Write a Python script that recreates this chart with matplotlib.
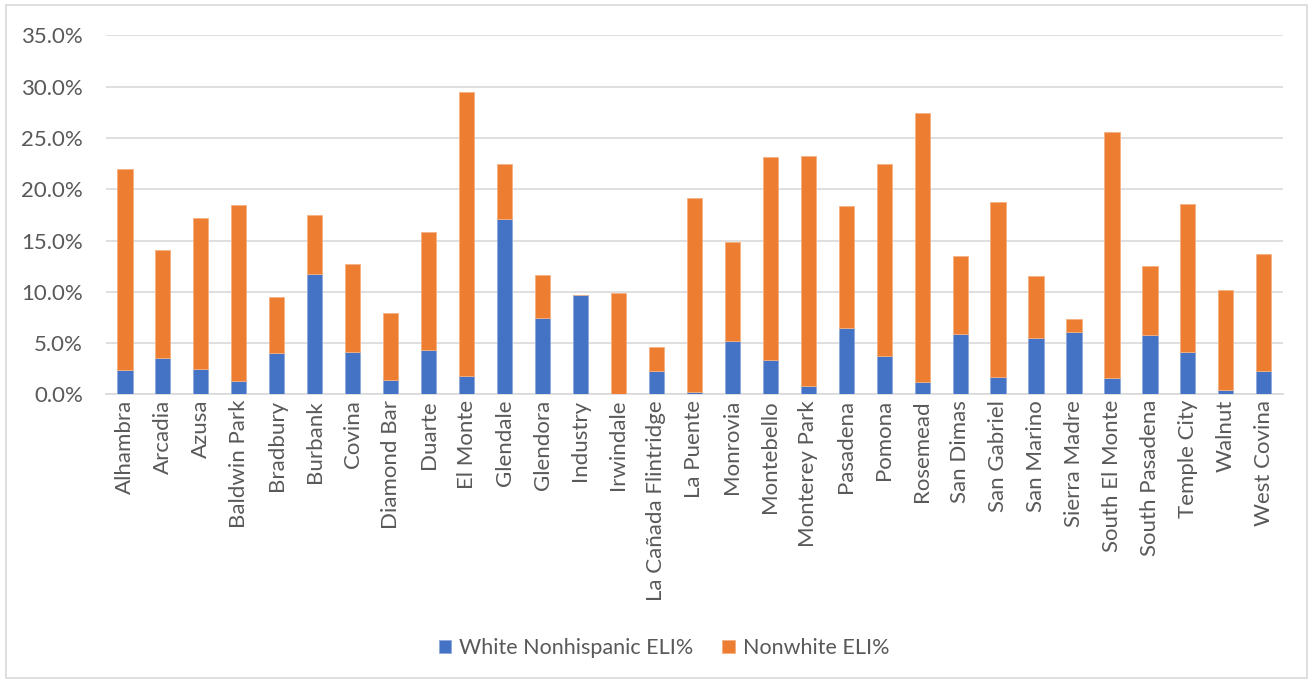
import matplotlib
matplotlib.use("Agg")
import matplotlib.pyplot as plt
from matplotlib.patches import Rectangle
from matplotlib.ticker import PercentFormatter

cities = ["Alhambra", "Arcadia", "Azusa", "Baldwin Park", "Bradbury", "Burbank",
          "Covina", "Diamond Bar", "Duarte", "El Monte", "Glendale", "Glendora",
          "Industry", "Irwindale", "La Cañada Flintridge", "La Puente", "Monrovia",
          "Montebello", "Monterey Park", "Pasadena", "Pomona", "Rosemead",
          "San Dimas", "San Gabriel", "San Marino", "Sierra Madre", "South El Monte",
          "South Pasadena", "Temple City", "Walnut", "West Covina"]

# stacked values in percent
white_eli = [2.34, 3.57, 2.5, 1.33, 4.03, 11.76, 4.16, 1.43, 4.29, 1.79, 17.1,
             7.47, 9.68, 0.0, 2.3, 0.25, 5.2, 3.3, 0.84, 6.47, 3.7, 1.17,
             5.9, 1.72, 5.52, 6.08, 1.62, 5.8, 4.1, 0.45, 2.3]
total_eli = [21.94, 14.1, 17.2, 18.5, 9.52, 17.5, 12.74, 7.9, 15.83, 29.5, 22.5,
             11.63, 9.68, 9.91, 4.58, 19.1, 14.9, 23.1, 23.2, 18.4, 22.46, 27.4,
             13.46, 18.8, 11.54, 7.34, 25.6, 12.5, 18.56, 10.17, 13.7]
nonwhite_eli = [t - w for t, w in zip(total_eli, white_eli)]

plt.rcParams['font.family'] = ['Lato', 'DejaVu Sans']
grey = "#595959"

fig = plt.figure(figsize=(13.13, 6.82), dpi=100)
ax = fig.add_axes([0.0807, 0.4218, 0.8963, 0.5262])

x = range(len(cities))
ax.bar(x, white_eli, width=0.4, color="#4472c4", edgecolor="#8faadc", linewidth=0.6,
       label="White Nonhispanic ELI%", zorder=3)
ax.bar(x, nonwhite_eli, width=0.4, bottom=white_eli, color="#ed7d31", edgecolor="#f4b183",
       linewidth=0.6, label="Nonwhite ELI%", zorder=3)

ax.set_xlim(-0.5, len(cities) - 0.5)
ax.set_ylim(0, 35)
ax.set_yticks([0, 5, 10, 15, 20, 25, 30, 35])
ax.yaxis.set_major_formatter(PercentFormatter(decimals=1))
ax.grid(axis="y", color="#d9d9d9", linewidth=1.2, zorder=0)
for s in ["top", "right", "left"]:
    ax.spines[s].set_visible(False)
ax.spines["bottom"].set_color("#d9d9d9")
ax.spines["bottom"].set_linewidth(1.2)

ax.set_xticks(list(x))
ax.set_xticklabels(cities, rotation=90, fontsize=16, color=grey)
ax.tick_params(axis="x", length=0, pad=4)
ax.tick_params(axis="y", length=0, pad=16.5, labelsize=16, labelcolor=grey)

leg = fig.legend(loc="center", bbox_to_anchor=(0.5057, 0.0499), ncol=2, frameon=False,
                 fontsize=15.5, handlelength=0.6, handleheight=0.6, columnspacing=1.36,
                 handletextpad=0.35)
for t in leg.get_texts():
    t.set_color(grey)

fig.patches.append(Rectangle((6 / 1313, 4 / 682), 1301 / 1313, 673 / 682,
                             transform=fig.transFigure, fill=False,
                             edgecolor="#d9d9d9", linewidth=1.2))

fig.savefig("out.png", dpi=100)
